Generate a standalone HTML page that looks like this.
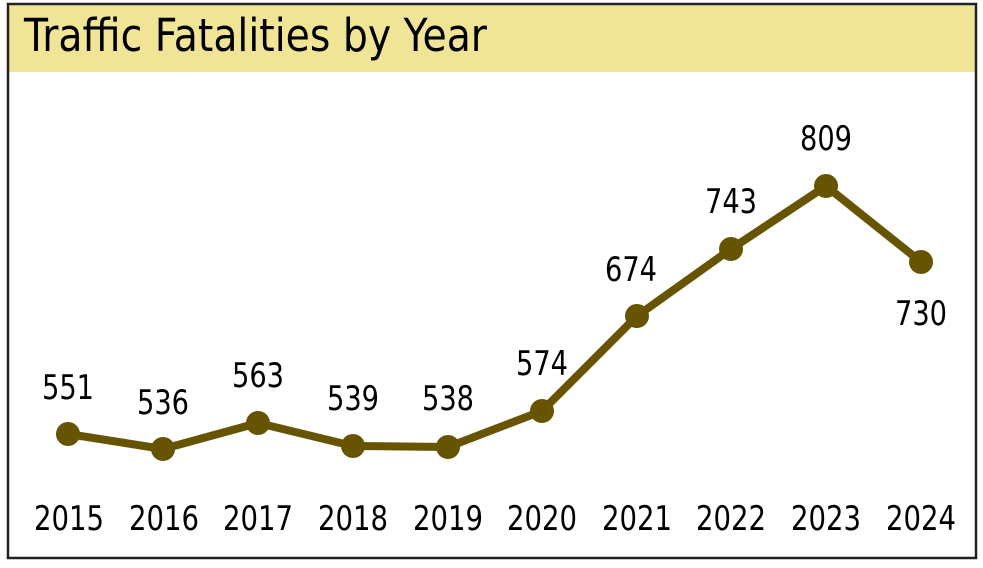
<!DOCTYPE html>
<html><head><style>html,body{margin:0;padding:0;background:#fff;}</style></head>
<body>
<svg width="983" height="563" xmlns="http://www.w3.org/2000/svg" font-family="'DejaVu Sans','Liberation Sans',sans-serif">
<rect x="0" y="0" width="983" height="563" fill="#fff"/>
<rect x="8" y="4" width="968" height="68" fill="#f0e497"/>
<rect x="8" y="4" width="968" height="554" fill="none" stroke="#222" stroke-width="2.5"/>
<text x="24" y="51" font-size="45" textLength="463" lengthAdjust="spacingAndGlyphs" fill="#000">Traffic Fatalities by Year</text>
<polyline points="68,434 163,449 258,423 353,446 448,447 542,411 637,316 731,249 826,186 921,262" fill="none" stroke="#665400" stroke-width="8" stroke-linejoin="round"/>
<g fill="#665400">
<circle cx="68" cy="434" r="12"/><circle cx="163" cy="449" r="12"/><circle cx="258" cy="423" r="12"/><circle cx="353" cy="446" r="12"/><circle cx="448" cy="447" r="12"/><circle cx="542" cy="411" r="12"/><circle cx="637" cy="316" r="12"/><circle cx="731" cy="249" r="12"/><circle cx="826" cy="186" r="12"/><circle cx="921" cy="262" r="12"/>
</g>
<g font-size="34" text-anchor="middle" fill="#000">
<text x="68" y="399" textLength="52" lengthAdjust="spacingAndGlyphs">551</text>
<text x="163" y="414" textLength="52" lengthAdjust="spacingAndGlyphs">536</text>
<text x="258" y="387" textLength="52" lengthAdjust="spacingAndGlyphs">563</text>
<text x="353" y="410" textLength="52" lengthAdjust="spacingAndGlyphs">539</text>
<text x="448" y="410" textLength="52" lengthAdjust="spacingAndGlyphs">538</text>
<text x="542" y="375" textLength="52" lengthAdjust="spacingAndGlyphs">574</text>
<text x="631" y="281" textLength="52" lengthAdjust="spacingAndGlyphs">674</text>
<text x="731" y="213" textLength="52" lengthAdjust="spacingAndGlyphs">743</text>
<text x="826" y="150" textLength="52" lengthAdjust="spacingAndGlyphs">809</text>
<text x="921" y="325" textLength="52" lengthAdjust="spacingAndGlyphs">730</text>
</g>
<g font-size="34" text-anchor="middle" fill="#000">
<text x="69" y="530" textLength="70" lengthAdjust="spacingAndGlyphs">2015</text>
<text x="164" y="530" textLength="70" lengthAdjust="spacingAndGlyphs">2016</text>
<text x="258" y="530" textLength="70" lengthAdjust="spacingAndGlyphs">2017</text>
<text x="353" y="530" textLength="70" lengthAdjust="spacingAndGlyphs">2018</text>
<text x="448" y="530" textLength="70" lengthAdjust="spacingAndGlyphs">2019</text>
<text x="542" y="530" textLength="70" lengthAdjust="spacingAndGlyphs">2020</text>
<text x="637" y="530" textLength="70" lengthAdjust="spacingAndGlyphs">2021</text>
<text x="731" y="530" textLength="70" lengthAdjust="spacingAndGlyphs">2022</text>
<text x="826" y="530" textLength="70" lengthAdjust="spacingAndGlyphs">2023</text>
<text x="921" y="530" textLength="70" lengthAdjust="spacingAndGlyphs">2024</text>
</g>
</svg>
</body></html>
